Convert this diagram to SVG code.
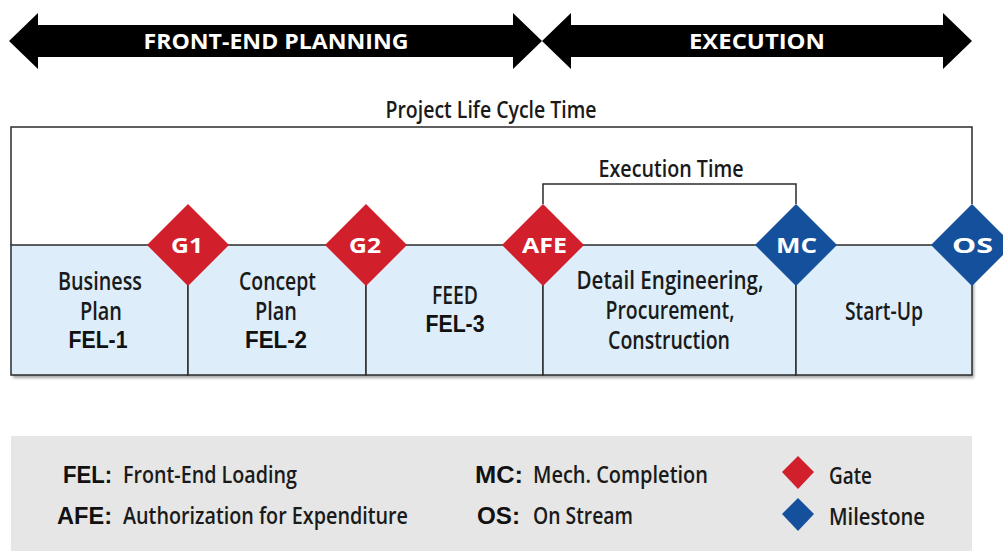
<svg xmlns="http://www.w3.org/2000/svg" width="1003" height="551" viewBox="0 0 1003 551">
  <style>
    .banner { fill: #000000; }
    .banner-text { font-family: "Open Sans", "Liberation Sans", sans-serif; font-weight: 700; font-size: 21px; fill: #ffffff; text-anchor: middle; }
    .title { font-family: "Open Sans", "Liberation Sans", sans-serif; font-weight: 600; font-size: 24px; fill: #1a1a1a; text-anchor: middle; }
    .phase { fill: #ddeefa; stroke: #2b2b2b; stroke-width: 1.5; }
    .phase-text { font-family: "Open Sans", "Liberation Sans", sans-serif; font-weight: 600; font-size: 26px; fill: #1a1a1a; text-anchor: middle; }
    .phase-code { font-family: "Liberation Sans", Arial, sans-serif; font-weight: 700; font-size: 23px; fill: #111111; text-anchor: middle; }
    .gate { fill: #d21f2c; }
    .milestone { fill: #15509c; }
    .marker-text { font-family: "Open Sans", "Liberation Sans", sans-serif; font-weight: 700; font-size: 22px; fill: #ffffff; text-anchor: middle; }
    .bracket { fill: none; stroke: #2b2b2b; stroke-width: 1.5; }
    .legend-bg { fill: #e6e6e6; }
    .legend-key { font-family: "Liberation Sans", Arial, sans-serif; font-weight: 700; font-size: 23px; fill: #111111; }
    .legend-text { font-family: "Open Sans", "Liberation Sans", sans-serif; font-weight: 600; font-size: 24px; fill: #1a1a1a; }
  </style>
  <defs>
    <filter id="shadow" x="-5%" y="-20%" width="110%" height="140%">
      <feGaussianBlur stdDeviation="1.5"/>
    </filter>
  </defs>

  <!-- Phase banners -->
  <g id="banner-front-end">
    <polygon class="banner" points="9,41 38,13 38,25 513,25 513,13 542,41 513,69 513,57 38,57 38,69"/>
    <text class="banner-text" x="276" y="49" textLength="265" lengthAdjust="spacingAndGlyphs">FRONT-END PLANNING</text>
  </g>
  <g id="banner-execution">
    <polygon class="banner" points="542,41 571,13 571,25 943,25 943,13 972,41 943,69 943,57 571,57 571,69"/>
    <text class="banner-text" x="757" y="49" textLength="136" lengthAdjust="spacingAndGlyphs">EXECUTION</text>
  </g>

  <!-- Time spans -->
  <g id="connectors">
    <polyline class="bracket" points="11,245 11,127 972,127 972,204"/>
    <polyline class="bracket" points="543,204 543,184 796,184 796,204"/>
  </g>
  <text class="title" x="491" y="118" textLength="211" lengthAdjust="spacingAndGlyphs">Project Life Cycle Time</text>
  <text class="title" x="671" y="177" textLength="145" lengthAdjust="spacingAndGlyphs">Execution Time</text>

  <!-- Phase boxes -->
  <rect x="13" y="248" width="961" height="130" fill="#7a7a7a" opacity="0.7" filter="url(#shadow)"/>
  <g id="phase-business-plan">
    <rect class="phase" x="11" y="245" width="177" height="130"/>
    <text class="phase-text" x="100" y="290" textLength="84" lengthAdjust="spacingAndGlyphs">Business</text>
    <text class="phase-text" x="101" y="320" textLength="42" lengthAdjust="spacingAndGlyphs">Plan</text>
    <text class="phase-code" x="98" y="348" textLength="59" lengthAdjust="spacingAndGlyphs">FEL-1</text>
  </g>
  <g id="phase-concept-plan">
    <rect class="phase" x="188" y="245" width="178" height="130"/>
    <text class="phase-text" x="277.5" y="290" textLength="77" lengthAdjust="spacingAndGlyphs">Concept</text>
    <text class="phase-text" x="276" y="320" textLength="42" lengthAdjust="spacingAndGlyphs">Plan</text>
    <text class="phase-code" x="276" y="348" textLength="62" lengthAdjust="spacingAndGlyphs">FEL-2</text>
  </g>
  <g id="phase-feed">
    <rect class="phase" x="366" y="245" width="177" height="130"/>
    <text class="phase-text" x="455" y="304" textLength="46" lengthAdjust="spacingAndGlyphs">FEED</text>
    <text class="phase-code" x="455" y="332" textLength="59" lengthAdjust="spacingAndGlyphs">FEL-3</text>
  </g>
  <g id="phase-detail-engineering">
    <rect class="phase" x="543" y="245" width="253" height="130"/>
    <text class="phase-text" x="670" y="289" textLength="187" lengthAdjust="spacingAndGlyphs">Detail Engineering,</text>
    <text class="phase-text" x="670" y="319" textLength="129" lengthAdjust="spacingAndGlyphs">Procurement,</text>
    <text class="phase-text" x="669" y="349" textLength="122" lengthAdjust="spacingAndGlyphs">Construction</text>
  </g>
  <g id="phase-start-up">
    <rect class="phase" x="796" y="245" width="176" height="130"/>
    <text class="phase-text" x="884" y="320" textLength="78" lengthAdjust="spacingAndGlyphs">Start-Up</text>
  </g>

  <!-- Gates and milestones -->
  <g id="gate-g1">
    <polygon class="gate" points="188,204 229,245 188,286 147,245"/>
    <text class="marker-text" x="187" y="253" textLength="32" lengthAdjust="spacingAndGlyphs">G1</text>
  </g>
  <g id="gate-g2">
    <polygon class="gate" points="366,204 407,245 366,286 325,245"/>
    <text class="marker-text" x="365" y="253" textLength="32" lengthAdjust="spacingAndGlyphs">G2</text>
  </g>
  <g id="gate-afe">
    <polygon class="gate" points="543,204 584,245 543,286 502,245"/>
    <text class="marker-text" x="544.5" y="253" textLength="45" lengthAdjust="spacingAndGlyphs">AFE</text>
  </g>
  <g id="milestone-mc">
    <polygon class="milestone" points="796,204 837,245 796,286 755,245"/>
    <text class="marker-text" x="796.5" y="253" textLength="41" lengthAdjust="spacingAndGlyphs">MC</text>
  </g>
  <g id="milestone-os">
    <polygon class="milestone" points="972,204 1013,245 972,286 931,245"/>
    <text class="marker-text" x="972.5" y="253" textLength="41" lengthAdjust="spacingAndGlyphs">OS</text>
  </g>

  <!-- Legend -->
  <g id="legend">
    <rect class="legend-bg" x="11" y="436" width="961" height="115"/>
    <text class="legend-key" x="63" y="483" textLength="49" lengthAdjust="spacingAndGlyphs">FEL:</text>
    <text class="legend-text" x="123" y="483" textLength="174" lengthAdjust="spacingAndGlyphs">Front-End Loading</text>
    <text class="legend-key" x="57" y="524" textLength="55" lengthAdjust="spacingAndGlyphs">AFE:</text>
    <text class="legend-text" x="123" y="524" textLength="285" lengthAdjust="spacingAndGlyphs">Authorization for Expenditure</text>
    <text class="legend-key" x="475" y="483" textLength="48" lengthAdjust="spacingAndGlyphs">MC:</text>
    <text class="legend-text" x="533" y="483" textLength="175" lengthAdjust="spacingAndGlyphs">Mech. Completion</text>
    <text class="legend-key" x="477" y="524" textLength="43" lengthAdjust="spacingAndGlyphs">OS:</text>
    <text class="legend-text" x="533" y="524" textLength="100" lengthAdjust="spacingAndGlyphs">On Stream</text>
    <polygon class="gate" points="798,456 814,472 798,489 782,472"/>
    <text class="legend-text" x="829" y="484" textLength="43" lengthAdjust="spacingAndGlyphs">Gate</text>
    <polygon class="milestone" points="798,498 814,514 798,531 782,514"/>
    <text class="legend-text" x="829" y="525" textLength="96" lengthAdjust="spacingAndGlyphs">Milestone</text>
  </g>
</svg>
